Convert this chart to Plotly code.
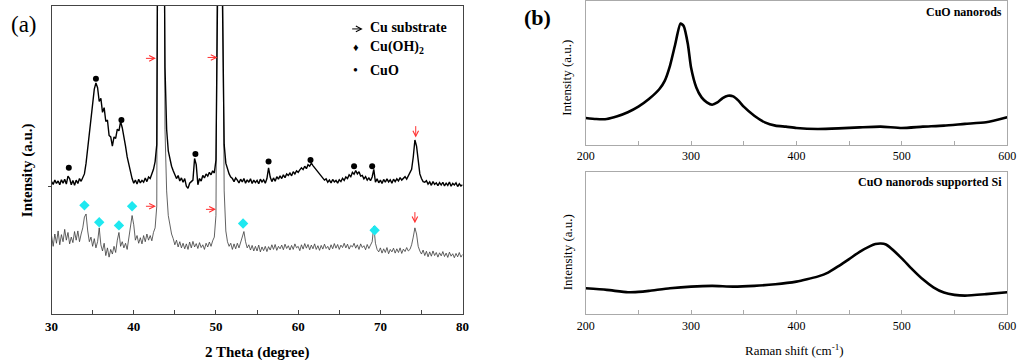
import numpy as np
import plotly.graph_objects as go

# ---------------- data ----------------
two_theta = np.round(np.linspace(30, 80, 251), 1)

xrd_cuo = [
    43.0, 42.1, 43.5, 42.4, 43.2,
    42.0, 43.6, 42.5, 43.8, 42.2,
    44.8, 44.0, 42.0, 43.4, 41.8,
    43.5, 42.4, 44.0, 43.1, 44.6,
    45.5, 49.0, 54.0, 60.0, 65.0,
    70.0, 73.0, 75.0, 73.5, 69.0,
    70.0, 65.5, 67.0, 62.5, 63.0,
    58.0, 57.5, 54.5, 57.5, 57.0,
    60.0, 59.5, 62.5, 60.5, 58.0,
    54.5, 51.0, 48.5, 46.0, 44.0,
    42.5, 43.5, 42.2, 43.8, 42.6,
    43.4, 42.8, 44.2, 43.0, 44.5,
    44.0, 45.5, 47.0, 49.5, 55.0,
    180, 260, 260, 170, 80,
    60.0, 53.0, 50.0, 48.0, 46.5,
    45.5, 44.0, 45.0, 43.2, 44.2,
    42.8, 44.0, 41.5, 40.8, 42.5,
    43.0, 43.5, 50.5, 48.5, 42.0,
    44.0, 43.2, 45.0, 44.2, 45.5,
    44.8, 46.0, 45.2, 46.5, 45.8,
    50.0, 105, 260, 220, 100,
    55.0, 49.0, 47.0, 45.5, 44.5,
    44.0, 43.0, 44.2, 43.5, 42.6,
    43.8, 42.9, 44.0, 42.5, 43.6,
    42.8, 43.9, 42.4, 43.5, 42.7,
    43.4, 42.3, 43.8, 42.9, 43.6,
    42.5, 44.0, 47.5, 44.5, 43.0,
    44.2, 43.1, 44.6, 43.8, 44.9,
    44.0, 45.2, 44.3, 45.5, 45.0,
    45.8, 44.9, 46.2, 45.5, 46.5,
    46.0, 46.8, 47.5, 46.9, 48.0,
    47.2, 48.5, 48.0, 49.0, 48.2,
    47.5, 46.8, 46.0, 45.2, 44.8,
    44.2, 43.5, 43.9, 42.8, 43.5,
    42.6, 43.7, 42.9, 43.4, 42.5,
    43.6, 43.0, 44.1, 43.4, 44.5,
    44.0, 45.2, 44.6, 46.0, 45.4,
    46.6, 45.5, 46.2, 44.8, 45.0,
    43.9, 44.6, 43.5, 44.2, 43.3,
    44.5, 47.0, 42.8, 43.9, 42.6,
    43.5, 42.4, 43.7, 42.8, 43.9,
    42.9, 43.6, 42.5, 43.8, 43.0,
    43.9, 43.2, 44.3, 43.5, 44.0,
    44.6, 43.8, 44.8, 45.5, 47.0,
    51.0, 56.5, 54.5, 49.0, 45.5,
    44.0, 43.0, 42.8, 43.3, 42.2,
    42.9, 41.8, 43.0, 42.1, 42.6,
    41.7, 42.7, 41.9, 42.8, 41.6,
    42.5, 41.8, 42.9, 41.5, 42.4,
    41.9, 42.6, 41.4, 42.3, 41.6,
    42.0,
]

xrd_cuoh2 = [
    25.5, 22.0, 26.0, 23.0, 27.0,
    22.5, 25.8, 23.5, 27.5, 24.0,
    26.5, 22.8, 25.0, 23.2, 26.8,
    24.0, 27.0, 23.5, 26.0, 28.0,
    31.5, 32.5, 27.0, 23.5, 25.0,
    22.0, 24.5, 21.5, 23.5, 28.0,
    22.5, 20.5, 23.0, 19.0, 21.5,
    18.5, 21.0, 19.5, 22.0, 20.0,
    24.0, 26.5, 22.0, 23.5, 21.5,
    23.0, 21.0, 24.5, 27.5, 32.0,
    29.0, 24.0, 25.5, 23.0, 24.8,
    22.8, 25.5, 23.5, 26.0, 24.0,
    25.5, 23.8, 26.5, 28.0, 35.0,
    220, 300, 300, 200, 60,
    40.0, 32.0, 28.5, 26.0, 24.5,
    22.5, 24.0, 21.8, 23.5, 21.5,
    23.0, 21.2, 22.8, 21.0, 23.4,
    21.5, 23.6, 21.8, 22.9, 21.3,
    23.2, 21.6, 22.5, 21.0, 23.0,
    21.8, 23.4, 22.0, 23.8, 25.0,
    32.0, 130, 300, 250, 110,
    40.0, 27.0, 23.5, 22.0, 23.0,
    21.0, 22.8, 21.2, 23.0, 21.5,
    23.5, 25.0, 26.8, 23.5, 21.5,
    22.5, 20.8, 22.3, 20.5, 22.0,
    20.5, 22.4, 20.2, 21.8, 20.6,
    22.0, 20.3, 21.9, 20.8, 22.5,
    21.0, 22.6, 20.7, 22.0, 21.2,
    22.4, 20.9, 22.7, 21.3, 22.2,
    20.8, 22.3, 21.0, 22.8, 21.5,
    22.0, 20.6, 22.5, 21.1, 22.9,
    21.4, 22.6, 20.9, 22.4, 21.2,
    22.8, 21.0, 22.2, 20.7, 22.3,
    21.1, 22.7, 21.3, 22.0, 20.8,
    22.5, 21.2, 22.9, 21.4, 22.6,
    21.0, 22.4, 21.6, 23.0, 21.5,
    22.7, 21.1, 22.3, 21.8, 23.0,
    21.4, 22.5, 21.0, 22.8, 21.6,
    22.2, 20.9, 22.6, 21.3, 22.4,
    23.5, 28.5, 23.0, 21.0, 20.2,
    21.5, 19.8, 21.2, 20.0, 21.6,
    19.6, 21.0, 20.2, 21.4, 19.8,
    21.2, 20.0, 21.5, 19.7, 21.1,
    20.3, 21.6, 20.5, 21.0, 22.5,
    25.0, 28.0, 26.0, 22.0, 20.5,
    19.5, 20.8, 19.0, 20.4, 18.6,
    20.2, 18.8, 20.5, 19.0, 20.0,
    18.5, 19.9, 18.9, 20.3, 18.7,
    19.8, 18.4, 20.1, 18.8, 19.6,
    18.3, 19.7, 18.6, 20.0, 18.5,
    19.4,
]

# peak markers
cuo_mark_x = [32.1, 35.4, 38.5, 47.5, 56.4, 61.5, 66.8, 69.0]
cuo_mark_y = [47.5, 76.4, 63.0, 52.0, 49.5, 50.0, 48.0, 48.0]
cuoh2_mark_x = [34.0, 35.8, 38.2, 39.8, 53.3, 69.3]
cuoh2_mark_y = [35.3, 29.8, 28.8, 35.0, 29.4, 27.2]

# Cu substrate arrows: (head x, head y, tail x, tail y)
cu_arrows = [
    (42.7, 83.0, 41.3, 83.0),
    (50.2, 83.3, 48.8, 83.3),
    (42.7, 35.0, 41.3, 35.0),
    (50.0, 34.0, 48.6, 34.0),
    (74.3, 57.3, 74.3, 61.5),
    (74.2, 29.5, 74.2, 33.6),
]

raman_shift_top = [200, 210, 220, 230, 240, 250, 260, 270, 275, 280, 285, 290,
                   293, 297, 300, 305, 310, 315, 320, 325, 330, 335, 340, 345,
                   350, 360, 370, 380, 390, 400, 420, 440, 460, 480, 500, 520,
                   540, 560, 580, 600]
raman_cuo = [18.5, 17.8, 17.8, 19.7, 22.5, 26.4, 31.7, 38.7, 44.4, 54.9, 69.9, 84.3,
             82.6, 69.9, 53.7, 39.8, 32.9, 29.4, 27.8, 29.4, 32.4, 34.0, 33.6, 30.6,
             26.4, 20.1, 15.5, 13.2, 12.5, 11.6, 10.9, 11.3, 12.0, 12.5, 11.6, 12.5,
             13.2, 14.4, 15.5, 19.0]

raman_shift_bot = [200, 220, 240, 250, 260, 280, 300, 320, 340, 360, 380, 400,
                   410, 420, 430, 440, 450, 460, 470, 475, 480, 485, 490, 500,
                   510, 520, 530, 540, 550, 560, 580, 600]
raman_cuo_si = [18.1, 17.0, 15.3, 15.6, 16.3, 18.1, 19.3, 19.8, 19.3, 19.8, 20.9, 22.8,
                24.4, 26.3, 29.1, 33.7, 38.6, 43.7, 47.7, 49.1, 49.5, 48.8, 46.0, 39.1,
                31.4, 24.4, 18.8, 15.1, 13.5, 13.0, 14.0, 15.3]

xrd_ticks = [30, 40, 50, 60, 70, 80]
raman_ticks = [200, 300, 400, 500, 600]

# ---------------- figure ----------------
SERIF = "Liberation Serif"
fig = go.Figure()

fig.add_trace(go.Scatter(x=two_theta, y=xrd_cuoh2, mode="lines",
                         line=dict(color="#3a3a3a", width=0.8),
                         xaxis="x", yaxis="y", showlegend=False))
fig.add_trace(go.Scatter(x=two_theta, y=xrd_cuo, mode="lines",
                         line=dict(color="#000000", width=1.4),
                         xaxis="x", yaxis="y", showlegend=False))
fig.add_trace(go.Scatter(x=cuo_mark_x, y=cuo_mark_y, mode="markers",
                         marker=dict(symbol="circle", size=6, color="black"),
                         xaxis="x", yaxis="y", showlegend=False))
fig.add_trace(go.Scatter(x=cuoh2_mark_x, y=cuoh2_mark_y, mode="markers",
                         marker=dict(symbol="diamond", size=8, color="#1ee8f0"),
                         xaxis="x", yaxis="y", showlegend=False))

fig.add_trace(go.Scatter(x=raman_shift_top, y=raman_cuo, mode="lines",
                         line=dict(color="black", width=2.6, shape="spline", smoothing=0.6),
                         xaxis="x2", yaxis="y2", showlegend=False))
fig.add_trace(go.Scatter(x=raman_shift_bot, y=raman_cuo_si, mode="lines",
                         line=dict(color="black", width=2.6, shape="spline", smoothing=0.6),
                         xaxis="x3", yaxis="y3", showlegend=False))

ann = []
for hx, hy, tx, ty in cu_arrows:
    ann.append(dict(x=hx, y=hy, ax=tx, ay=ty, xref="x", yref="y", axref="x", ayref="y",
                    showarrow=True, arrowhead=5, arrowsize=1.1, arrowwidth=1,
                    arrowcolor="#ff3030", text=""))

# legend arrow (black), tail offset given in pixels
ann.append(dict(x=360 / 1024, y=1 - 28 / 360, ax=-12, ay=0,
                xref="paper", yref="paper", axref="pixel", ayref="pixel",
                showarrow=True, arrowhead=5, arrowsize=1.1, arrowwidth=1,
                arrowcolor="black", text=""))

def txt(x, y, s, size, weight="normal", xanchor="center", angle=0, yanchor="middle"):
    ann.append(dict(x=x / 1024, y=1 - y / 360, xref="paper", yref="paper", text=s,
                    showarrow=False, xanchor=xanchor, yanchor=yanchor, textangle=angle,
                    font=dict(family=SERIF, size=size, color="black", weight=weight)))

txt(0, 24, "(a)", 23, xanchor="left")
txt(522, 17, "(b)", 22, weight="bold", xanchor="left")
txt(19, 170, "Intensity (a.u.)", 15, weight="bold", angle=-90)
txt(252, 352, "2 Theta (degree)", 15, weight="bold")
# legend of panel (a)
txt(353, 46, "♦", 11)
txt(353, 70, "•", 14)
txt(365, 27, "Cu substrate", 14, weight="bold", xanchor="left")
txt(365, 47, "Cu(OH)<sub>2</sub>", 14, weight="bold", xanchor="left")
txt(365, 70, "CuO", 14, weight="bold", xanchor="left")
# panel (b)
txt(1013, 11, "CuO nanorods", 12, weight="bold", xanchor="right")
txt(1013, 182, "CuO nanorods supported Si", 12, weight="bold", xanchor="right")
txt(568, 77, "Intensity (a.u.)", 13, angle=-90)
txt(568, 252, "Intensity (a.u.)", 13, angle=-90)
txt(800, 350, "Raman shift (cm<sup>-1</sup>)", 13)

axa = dict(showline=True, mirror=True, linecolor="#444", linewidth=1, showgrid=False,
           zeroline=False)
axb = dict(showline=True, mirror=True, linecolor="#aaaaaa", linewidth=1, showgrid=False,
           zeroline=False)

fig.update_layout(
    width=1024, height=360, margin=dict(l=0, r=0, t=0, b=0),
    paper_bgcolor="white", plot_bgcolor="white",
    annotations=ann,
    xaxis=dict(axa, domain=[43.3 / 1024, 461.7 / 1024], range=[30, 80],
               tickvals=xrd_ticks, ticks="inside", ticklen=4, tickcolor="#444",
               tickfont=dict(family=SERIF, size=13, color="black", weight="bold"),
               minor=dict(dtick=5, ticks="inside", ticklen=4, tickcolor="#444"),
               anchor="y"),
    yaxis=dict(axa, domain=[46 / 360, 355 / 360], range=[0, 100],
               tickvals=[41.5], ticks="outside", ticklen=3, tickcolor="#444",
               showticklabels=False, anchor="x"),
    xaxis2=dict(axb, domain=[587 / 1024, 1016 / 1024], range=[200, 600],
                tickvals=raman_ticks, ticks="inside", ticklen=4, tickcolor="#aaaaaa",
                tickfont=dict(family=SERIF, size=12, color="black"),
                minor=dict(dtick=50, ticks="inside", ticklen=4, tickcolor="#aaaaaa"),
                anchor="y2"),
    yaxis2=dict(axb, domain=[216 / 360, 1.0], range=[0, 100], ticks="",
                showticklabels=False, anchor="x2"),
    xaxis3=dict(axb, domain=[587 / 1024, 1016 / 1024], range=[200, 600],
                tickvals=raman_ticks, ticks="inside", ticklen=4, tickcolor="#aaaaaa",
                tickfont=dict(family=SERIF, size=12, color="black"),
                minor=dict(dtick=50, ticks="inside", ticklen=4, tickcolor="#aaaaaa"),
                anchor="y3"),
    yaxis3=dict(axb, domain=[46 / 360, 189 / 360], range=[0, 100], ticks="",
                showticklabels=False, anchor="x3"),
)

fig.write_html("out.html", config={"displayModeBar": False},
               post_script="document.body.style.margin='0px';document.body.style.overflow='hidden';")
